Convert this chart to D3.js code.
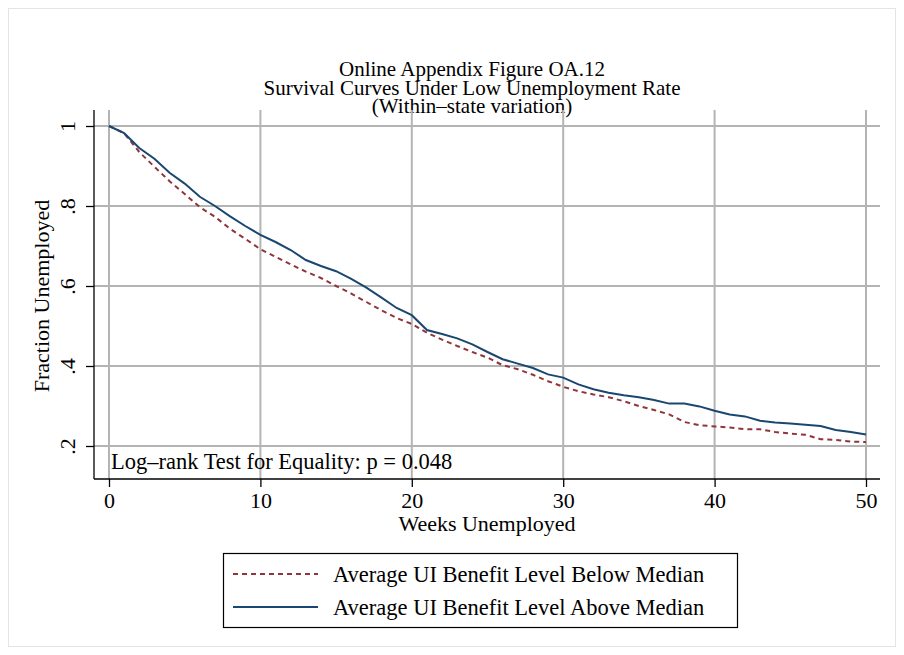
<!DOCTYPE html>
<html>
<head>
<meta charset="utf-8">
<script src="https://cdn.jsdelivr.net/npm/d3@7"></script>
<style>
  body { margin: 0; background: #fff; }
  svg text { font-family: "Liberation Serif", "Times New Roman", "DejaVu Serif", serif !important; fill: #000; }
</style>
</head>
<body>
<script>
// weeks 0..50, survival fractions
var weeks = d3.range(0, 51);
var below = [1.0, 0.982, 0.935, 0.898, 0.862, 0.830, 0.797, 0.773, 0.743, 0.718,
             0.692, 0.673, 0.654, 0.636, 0.620, 0.600, 0.581, 0.560, 0.539, 0.520,
             0.505, 0.483, 0.466, 0.450, 0.435, 0.421, 0.402, 0.392, 0.378, 0.362,
             0.348, 0.337, 0.329, 0.322, 0.312, 0.300, 0.290, 0.279, 0.260, 0.252,
             0.249, 0.246, 0.242, 0.242, 0.235, 0.231, 0.228, 0.217, 0.215, 0.211, 0.210];
var above = [1.0, 0.982, 0.945, 0.918, 0.883, 0.856, 0.823, 0.800, 0.774, 0.750,
             0.728, 0.710, 0.690, 0.665, 0.650, 0.637, 0.618, 0.596, 0.571, 0.545,
             0.527, 0.490, 0.480, 0.469, 0.454, 0.435, 0.417, 0.406, 0.395, 0.379,
             0.371, 0.354, 0.342, 0.333, 0.327, 0.322, 0.315, 0.306, 0.306, 0.299,
             0.288, 0.279, 0.274, 0.263, 0.259, 0.256, 0.253, 0.250, 0.240, 0.235, 0.229];
var xTicks = [0, 10, 20, 30, 40, 50];
var yTicks = [0.2, 0.4, 0.6, 0.8, 1];
var yTickLabels = [".2", ".4", ".6", ".8", "1"];
var seriesNames = ["Average UI Benefit Level Below Median", "Average UI Benefit Level Above Median"];

var W = 904, H = 655;
var plot = {left: 94, right: 880, top: 110, bottom: 479};
var FONT = "'Liberation Serif', 'Times New Roman', serif";

var x = d3.scaleLinear().domain([0, 50]).range([109, 866]);
var y = d3.scaleLinear().domain([0.2, 1]).range([446, 126]);

var svg = d3.select("body").append("svg")
    .attr("width", W)
    .attr("height", H)
    .attr("font-family", FONT);

// outer graph region
svg.append("rect").attr("x", 8.5).attr("y", 8.5).attr("width", W - 17).attr("height", H - 17)
    .attr("fill", "#fff").attr("stroke", "#e4e4e4").attr("stroke-width", 1);

// titles
var titles = ["Online Appendix Figure OA.12", "Survival Curves Under Low Unemployment Rate", "(Within\u2013state variation)"];
svg.selectAll(".title").data(titles).enter().append("text")
    .attr("x", 472)
    .attr("y", function (d, i) { return 76 + i * 18.5; })
    .attr("text-anchor", "middle")
    .style("font-size", "21px")
    .text(function (d) { return d; });

// grid
var grid = svg.append("g").attr("stroke", "#b4b4b4").attr("stroke-width", 2);
grid.selectAll(".hg").data(yTicks).enter().append("line")
    .attr("x1", plot.left).attr("x2", plot.right)
    .attr("y1", function (d) { return y(d); }).attr("y2", function (d) { return y(d); });
grid.selectAll(".vg").data(xTicks).enter().append("line")
    .attr("y1", plot.top).attr("y2", plot.bottom)
    .attr("x1", function (d) { return x(d); }).attr("x2", function (d) { return x(d); });

// axes
var xAxis = svg.append("g")
    .attr("transform", "translate(0," + plot.bottom + ")")
    .call(d3.axisBottom(x).tickValues(xTicks).tickSize(8).tickPadding(5).tickFormat(d3.format("d")));
xAxis.attr("font-family", FONT).attr("font-size", null);
xAxis.select(".domain").attr("d", "M" + plot.left + ",0H" + plot.right).attr("stroke-width", 1.3);
xAxis.selectAll("text").style("font-size", "22px");

var yAxis = svg.append("g")
    .attr("transform", "translate(" + plot.left + ",0)")
    .call(d3.axisLeft(y).tickValues(yTicks).tickSize(8).tickFormat(function (d, i) { return yTickLabels[i]; }));
yAxis.attr("font-family", FONT).attr("font-size", null);
yAxis.select(".domain").attr("d", "M0," + plot.top + "V" + plot.bottom).attr("stroke-width", 1.3);
yAxis.selectAll("text")
    .attr("x", null).attr("dy", null)
    .attr("transform", "translate(-24,0) rotate(-90)")
    .attr("text-anchor", "middle")
    .attr("dominant-baseline", "middle")
    .style("font-size", "22px");
svg.selectAll(".tick line").attr("stroke-width", 1.3);

// axis titles
svg.append("text").attr("x", 487).attr("y", 531).attr("text-anchor", "middle")
    .style("font-size", "22px").text("Weeks Unemployed");
svg.append("text").attr("transform", "translate(49,296) rotate(-90)").attr("text-anchor", "middle")
    .style("font-size", "22px").text("Fraction Unemployed");

// curves
var line = d3.line()
    .x(function (d, i) { return x(weeks[i]); })
    .y(function (d) { return y(d); });

svg.append("path").datum(below)
    .attr("d", line).attr("fill", "none")
    .attr("stroke", "#90353b").attr("stroke-width", 2)
    .attr("stroke-dasharray", "5,4");
svg.append("path").datum(above)
    .attr("d", line).attr("fill", "none")
    .attr("stroke", "#1a476f").attr("stroke-width", 2);

// note
svg.append("text").attr("x", 111).attr("y", 469)
    .style("font-size", "22.5px").text("Log\u2013rank Test for Equality: p = 0.048");

// legend
var lg = svg.append("g");
lg.append("rect").attr("x", 223.5).attr("y", 553.5).attr("width", 514).attr("height", 74)
    .attr("fill", "#fff").attr("stroke", "#000").attr("stroke-width", 1.2);
var legendRows = [{name: seriesNames[0], color: "#90353b", dash: "5,4"},
                  {name: seriesNames[1], color: "#1a476f", dash: null}];
legendRows.forEach(function (r, i) {
    var ly = 574 + i * 33;
    lg.append("line").attr("x1", 233).attr("x2", 318).attr("y1", ly).attr("y2", ly)
        .attr("stroke", r.color).attr("stroke-width", 2).attr("stroke-dasharray", r.dash);
    lg.append("text").attr("x", 333).attr("y", ly + 7.5).style("font-size", "22.5px").text(r.name);
});
</script>
</body>
</html>
